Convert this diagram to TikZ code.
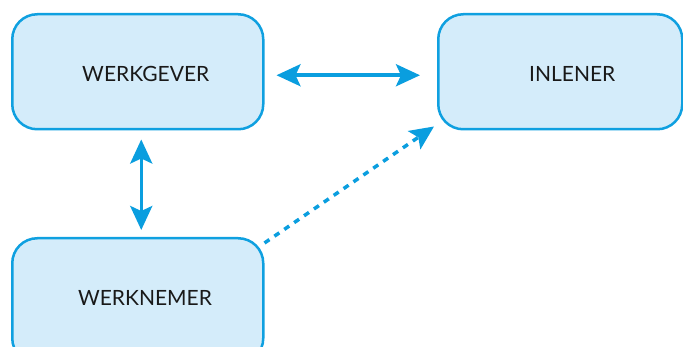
\documentclass[tikz,border=0pt]{standalone}
\usepackage{fontspec}
\setmainfont{Lato}
\usetikzlibrary{arrows.meta}
\definecolor{boxline}{HTML}{0FA0E0}
\definecolor{boxfill}{HTML}{D4ECFA}
\definecolor{arrcol}{HTML}{0A9EDF}
\tikzset{
  party/.style={draw=boxline, fill=boxfill, line width=2.5pt, rounded corners=25pt, inner sep=0pt},
  lbl/.style={font=\fontsize{21}{24}\selectfont, text=black!90, inner sep=0pt},
  conn/.style={draw=arrcol, line width=3.5pt, {Stealth[length=24pt,width=22pt,inset=5pt]}-{Stealth[length=24pt,width=22pt,inset=5pt]}},
  loose/.style={draw=arrcol, line width=3.5pt, dash pattern=on 6pt off 6pt, -{Stealth[length=24pt,width=22pt,inset=5pt]}}
}
\begin{document}
\begin{tikzpicture}[x=1pt,y=-1pt]
\useasboundingbox (0,0) rectangle (683,347);
\node[party, minimum width=251pt, minimum height=115pt, anchor=north west] (gever) at (11,13) {};
\node[party, minimum width=244pt, minimum height=115pt, anchor=north west] (inlener) at (437,13) {};
\node[party, minimum width=251pt, minimum height=125pt, anchor=north west] (nemer) at (11,237) {};
\node[lbl] (tgever) at ([xshift=8pt,yshift=-2pt]gever.center) {WERKGEVER};
\node[lbl] (tinlener) at ([xshift=12pt,yshift=-2pt]inlener.center) {INLENER};
\node[lbl] (tnemer) at (145,298) {WERKNEMER};
\draw[conn] ([xshift=12pt,yshift=-3.5pt]gever.east) -- ([xshift=-17pt,yshift=-3.5pt]inlener.west);
\draw[conn] ([xshift=3.5pt,yshift=-9pt]gever.south) -- ([xshift=3.5pt,yshift=7pt]nemer.north);
\draw[loose] ([yshift=-6pt]nemer.north east) -- ([xshift=-3pt,yshift=4pt]inlener.south west);
\end{tikzpicture}
\end{document}
